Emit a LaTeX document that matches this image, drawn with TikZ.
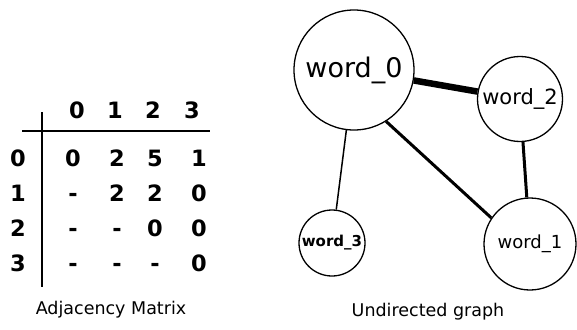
\documentclass[tikz,border=0pt]{standalone}
\usepackage{fontspec}
\setmainfont{DejaVu Sans}
\usetikzlibrary{positioning}
\tikzset{
  cell/.style={font=\fontsize{22.5}{22.5}\selectfont\bfseries,inner sep=0pt,
    text height=0.73em,text depth=0pt},
  wordnode/.style={circle,draw,line width=1.3pt,inner sep=0pt,minimum size=#1},
  caption/.style={font=\fontsize{17.5}{17.5}\selectfont,inner sep=0pt},
}

\begin{document}
\begin{tikzpicture}[x=1pt,y=-1pt]
    \useasboundingbox (0,0) rectangle (577,329);
    % table rules
    \coordinate (vtop) at (42,112);
    \coordinate (vbot) at (42,287);
    \coordinate (hleft) at (22,131);
    \coordinate (hright) at (210,131);
    \draw[line width=1.4pt] (vtop) -- (vbot);
    \draw[line width=1.4pt] (hleft) -- (hright);
    % column heads and row heads
    \foreach \i/\x in {0/77,1/115,2/153,3/192}
      \node[cell] (col\i) at (\x,115) {\i};
    \foreach \i/\y in {0/163,1/198,2/233,3/268}
      \node[cell] (row\i) at (18,\y) {\i};
    % upper triangle of weights
    \foreach \r/\y/\a/\b/\c/\d in {0/163/0/2/5/1,1/198/-/2/2/0,2/233/-/-/0/0,3/268/-/-/-/0} {
      \node[cell] (m\r0) at (73,\y) {\a};
      \node[cell] (m\r1) at (117,\y) {\b};
      \node[cell] (m\r2) at (155,\y) {\c};
      \node[cell] (m\r3) at (199,\y) {\d};
    }
    \node[caption] (matcap) at (111,310) {Adjacency Matrix};

    % word graph
    \node[wordnode=120,font=\fontsize{27}{27}\selectfont] (w0) at (354,70) {word\_0};
    \node[wordnode=85,font=\fontsize{21}{21}\selectfont] (w2) at (520,99) {word\_2};
    \node[wordnode=66,font=\fontsize{15}{15}\selectfont\bfseries] (w3) at (332,243) {word\_3};
    \node[wordnode=92,font=\fontsize{18}{18}\selectfont] (w1) at (530,244) {word\_1};
    \draw[line width=6.5pt] (w0) -- (w2);
    \draw[line width=3pt] (w0.-58) -- (w1.146);
    \draw[line width=3pt] (w2) -- (w1);
    \draw[line width=1.5pt] (w0) -- (w3);
    \node[caption] (graphcap) at (428,312) {Undirected graph};
  \end{tikzpicture}
\end{document}
